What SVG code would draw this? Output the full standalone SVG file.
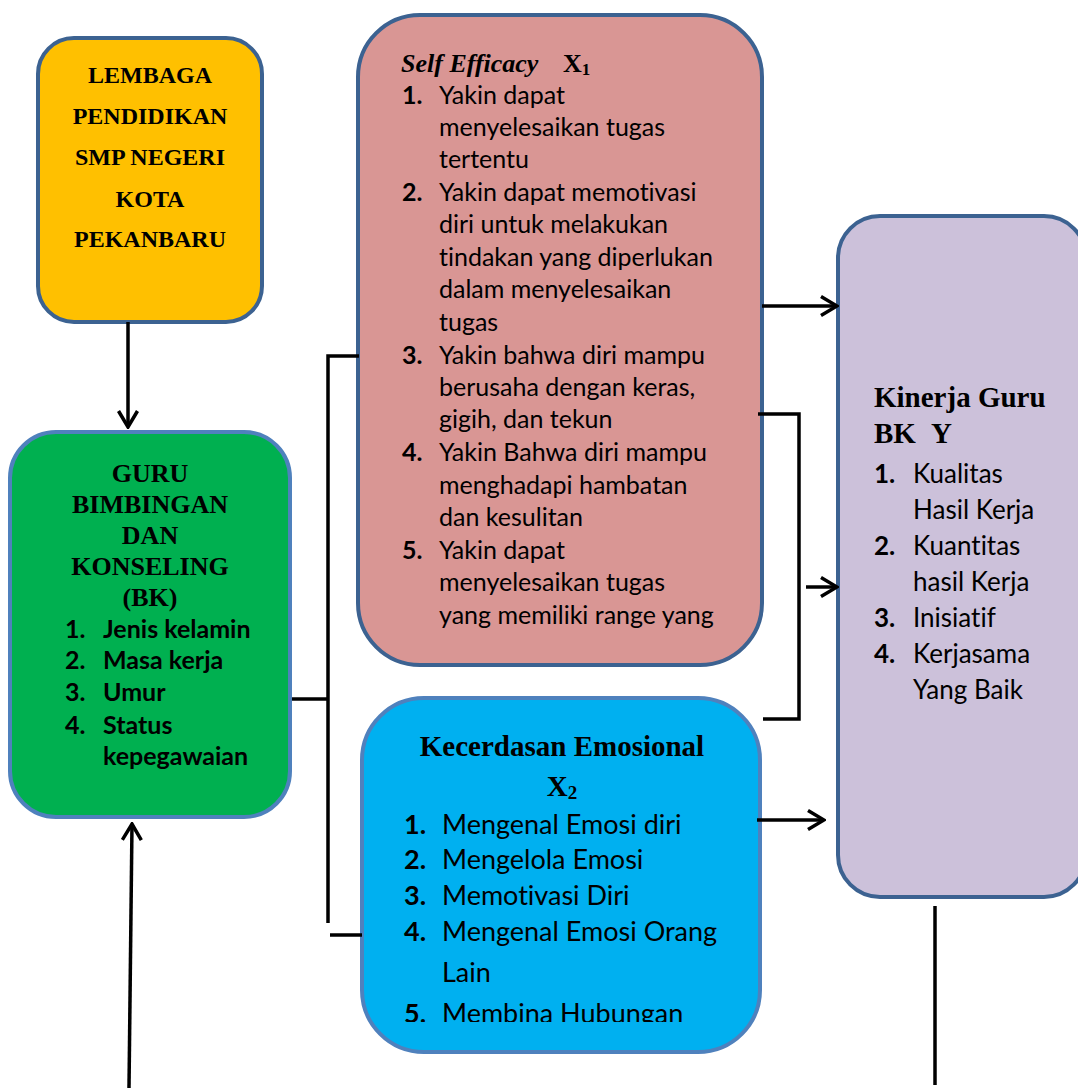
<svg xmlns="http://www.w3.org/2000/svg" width="1078" height="1088" viewBox="0 0 1078 1088">
<style>
.box{stroke-width:4}
.dark{stroke:#3C6291}
.light{stroke:#4F81BD}
.tb{font-family:"Liberation Serif",serif;font-weight:bold;fill:#000}
.cal{font-family:Lato,"Liberation Sans",sans-serif;fill:#000;font-variant-ligatures:none;font-feature-settings:"liga" 0,"clig" 0}
.num{font-weight:bold}
.conn{stroke:#000;stroke-width:3.5;fill:none}
</style>
<defs>
<marker id="arr" viewBox="0 0 20 22" refX="18" refY="11" markerWidth="20" markerHeight="22" markerUnits="userSpaceOnUse" orient="auto">
<path d="M2,1.5 L18,11 L2,20.5" fill="none" stroke="#000" stroke-width="3.5"/>
</marker>
<clipPath id="blueclip"><rect x="362" y="698" width="398" height="324"/></clipPath>
</defs>
<rect width="1078" height="1088" fill="#fff"/>

<g id="lembaga">
<rect class="box dark" x="38" y="38" width="224" height="284" rx="36" fill="#FFC000"/>
<g class="tb" font-size="24" text-anchor="middle">
<text x="150" y="83">LEMBAGA</text>
<text x="150" y="124">PENDIDIKAN</text>
<text x="150" y="165">SMP NEGERI</text>
<text x="150" y="207">KOTA</text>
<text x="150" y="247">PEKANBARU</text>
</g>
</g>

<g id="guru">
<rect class="box light" x="10" y="432" width="280" height="385" rx="46" fill="#00B050"/>
<g class="tb" font-size="26" text-anchor="middle">
<text x="150" y="482">GURU</text>
<text x="150" y="513">BIMBINGAN</text>
<text x="150" y="544">DAN</text>
<text x="150" y="575">KONSELING</text>
<text x="150" y="606">(BK)</text>
</g>
<g class="cal num" font-size="25">
<text x="65" y="638">1.</text><text x="103" y="638">Jenis kelamin</text>
<text x="65" y="669">2.</text><text x="103" y="669">Masa kerja</text>
<text x="65" y="701">3.</text><text x="103" y="701">Umur</text>
<text x="65" y="734">4.</text><text x="103" y="734">Status</text>
<text x="103" y="765">kepegawaian</text>
</g>
</g>

<g id="self-efficacy">
<rect class="box dark" x="358" y="15" width="404" height="650" rx="62" fill="#D99694"/>
<text class="tb" x="401" y="72" font-size="26"><tspan font-style="italic">Self Efficacy</tspan><tspan x="563">X</tspan><tspan font-size="17" dy="3">1</tspan></text>
<g class="cal" font-size="25">
<text class="num" x="402" y="104">1.</text><text x="439" y="104">Yakin dapat</text>
<text x="439" y="136">menyelesaikan tugas</text>
<text x="439" y="168">tertentu</text>
<text class="num" x="402" y="201">2.</text><text x="439" y="201">Yakin dapat memotivasi</text>
<text x="439" y="233">diri untuk melakukan</text>
<text x="439" y="266">tindakan yang diperlukan</text>
<text x="439" y="298">dalam menyelesaikan</text>
<text x="439" y="331">tugas</text>
<text class="num" x="402" y="364">3.</text><text x="439" y="364">Yakin bahwa diri mampu</text>
<text x="439" y="396">berusaha dengan keras,</text>
<text x="439" y="428">gigih, dan tekun</text>
<text class="num" x="402" y="461">4.</text><text x="439" y="461">Yakin Bahwa diri mampu</text>
<text x="439" y="494">menghadapi hambatan</text>
<text x="439" y="526">dan kesulitan</text>
<text class="num" x="402" y="559">5.</text><text x="439" y="559">Yakin dapat</text>
<text x="439" y="591">menyelesaikan tugas</text>
<text x="439" y="624">yang memiliki range yang</text>
</g>
</g>

<g id="kecerdasan">
<rect class="box light" x="362" y="698" width="398" height="354" rx="62" fill="#00B0F0"/>
<text class="tb" x="562" y="756" font-size="29" text-anchor="middle">Kecerdasan Emosional</text>
<text class="tb" x="562" y="796" font-size="29" text-anchor="middle">X<tspan font-size="19" dy="3">2</tspan></text>
<g class="cal" font-size="27" clip-path="url(#blueclip)">
<text class="num" x="404" y="834">1.</text><text x="442" y="834">Mengenal Emosi diri</text>
<text class="num" x="404" y="869">2.</text><text x="442" y="869">Mengelola Emosi</text>
<text class="num" x="404" y="905">3.</text><text x="442" y="905">Memotivasi Diri</text>
<text class="num" x="404" y="941">4.</text><text x="442" y="941">Mengenal Emosi Orang</text>
<text x="442" y="982">Lain</text>
<text class="num" x="404" y="1023">5.</text><text x="442" y="1023">Membina Hubungan</text>
</g>
</g>

<g id="kinerja">
<rect class="box dark" x="838" y="216" width="248" height="681" rx="42" fill="#CCC1DA"/>
<text class="tb" x="874" y="407" font-size="29">Kinerja Guru</text>
<text class="tb" x="874" y="443" font-size="29">BK<tspan x="931">Y</tspan></text>
<g class="cal" font-size="26">
<text class="num" x="874" y="483">1.</text><text x="913" y="483">Kualitas</text>
<text x="913" y="519">Hasil Kerja</text>
<text class="num" x="874" y="555">2.</text><text x="913" y="555">Kuantitas</text>
<text x="913" y="591">hasil Kerja</text>
<text class="num" x="874" y="627">3.</text><text x="913" y="627">Inisiatif</text>
<text class="num" x="874" y="663">4.</text><text x="913" y="663">Kerjasama</text>
<text x="913" y="699">Yang Baik</text>
</g>
</g>

<g id="connectors" class="conn">
<line x1="128" y1="322" x2="128" y2="427" marker-end="url(#arr)"/>
<line x1="129" y1="1088" x2="132" y2="824" marker-end="url(#arr)"/>
<polyline points="292,699 328,699"/>
<polyline points="359,356 328,356 328,923"/>
<line x1="330" y1="935" x2="362" y2="935"/>
<line x1="762" y1="306" x2="837" y2="306" marker-end="url(#arr)"/>
<polyline points="758,414 799,414 799,719 763,719"/>
<line x1="806" y1="587" x2="837" y2="587" marker-end="url(#arr)"/>
<line x1="757" y1="820" x2="824" y2="820" marker-end="url(#arr)"/>
<line x1="935" y1="906" x2="935" y2="1085"/>
</g>
</svg>
